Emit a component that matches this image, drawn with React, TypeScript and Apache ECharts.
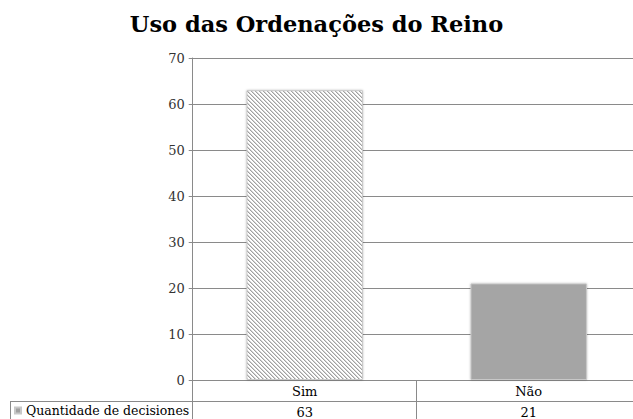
import React, { useEffect, useRef } from "react";
import * as echarts from "echarts";

const title = "Uso das Ordenações do Reino";
const categories = ["Sim", "Não"];
const seriesName = "Quantidade de decisiones";
const values = [63, 21];
const yTicks = { min: 0, max: 70, interval: 10 };

const GRID_LEFT = 192.7;
const GRID_TOP = 58;
const GRID_W = 448;
const GRID_H = 322;
const LINE = "#8a8a8a";
const SERIF = "DejaVu Serif";

function makeHatch(): HTMLCanvasElement {
  const c = document.createElement("canvas");
  c.width = 4;
  c.height = 4;
  const ctx = c.getContext("2d")!;
  ctx.fillStyle = "#ffffff";
  ctx.fillRect(0, 0, 4, 4);
  for (let y = 0; y < 4; y++) {
    for (let x = 0; x < 4; x++) {
      const d = (((x - y) % 4) + 4) % 4;
      if (d === 0) {
        ctx.fillStyle = "#a0a0a0";
        ctx.fillRect(x, y, 1, 1);
      } else if (d === 1) {
        ctx.fillStyle = "#d4d4d4";
        ctx.fillRect(x, y, 1, 1);
      }
    }
  }
  return c;
}

export default function App() {
  const ref = useRef<HTMLDivElement>(null);
  useEffect(() => {
    if (!ref.current) return;
    const chart = echarts.init(ref.current, undefined, { renderer: "svg" });
    const hatch = makeHatch();
    const barColors: any[] = [
      { image: hatch, repeat: "repeat" },
      "#a5a5a5",
    ];
    chart.setOption({
      animation: false,
      backgroundColor: "#ffffff",
      title: {
        text: title,
        left: "center",
        top: 7,
        textStyle: {
          fontFamily: SERIF,
          fontWeight: "bold",
          fontSize: 22.5,
          color: "#000000",
        },
      },
      legend: {
        show: true,
        left: 14,
        top: 404,
        padding: 0,
        itemWidth: 6,
        itemHeight: 6,
        icon: "rect",
        itemGap: 4,
        textStyle: { fontFamily: SERIF, fontSize: 12.5, color: "#000" },
        data: [{ name: seriesName, itemStyle: { color: "#a0a0a0" } }],
      },
      grid: {
        left: GRID_LEFT,
        top: GRID_TOP,
        width: GRID_W,
        height: GRID_H,
        containLabel: false,
        outerBoundsMode: "none",
      },
      xAxis: [
        {
          type: "category",
          data: categories,
          position: "bottom",
          axisLine: { show: true, lineStyle: { color: LINE, width: 1 } },
          axisTick: {
            show: true,
            length: 39,
            inside: false,
            lineStyle: { color: LINE, width: 1 },
          },
          axisLabel: {
            margin: 5,
            fontFamily: SERIF,
            fontSize: 13,
            color: "#000",
          },
        },
        {
          type: "category",
          data: categories,
          position: "bottom",
          offset: 21,
          axisLine: { show: true, lineStyle: { color: LINE, width: 1 } },
          axisTick: { show: false },
          axisLabel: {
            margin: 5,
            fontFamily: SERIF,
            fontSize: 13,
            color: "#000",
            formatter: (_v: string, i: number) => String(values[i]),
          },
        },
      ],
      yAxis: {
        type: "value",
        min: yTicks.min,
        max: yTicks.max,
        interval: yTicks.interval,
        axisLine: { show: true, lineStyle: { color: LINE, width: 1 } },
        axisTick: { show: true, length: 4, lineStyle: { color: LINE } },
        splitLine: { show: true, lineStyle: { color: LINE, width: 1 } },
        axisLabel: {
          margin: 8,
          fontFamily: SERIF,
          fontSize: 13,
          color: "#333333",
        },
      },
      graphic: [
        {
          type: "line",
          shape: { x1: 10, y1: 401.5, x2: GRID_LEFT, y2: 401.5 },
          style: { stroke: LINE, lineWidth: 1 },
        },
        {
          type: "line",
          shape: { x1: 10.5, y1: 401, x2: 10.5, y2: 419 },
          style: { stroke: LINE, lineWidth: 1 },
        },
      ],
      series: [
        {
          name: seriesName,
          type: "bar",
          barWidth: "52%",
          xAxisIndex: 0,
          itemStyle: {
            color: "#a5a5a5",
            borderColor: "#c8c8c8",
            borderWidth: 1,
            shadowBlur: 2,
            shadowColor: "rgba(0,0,0,0.25)",
          },
          data: values.map((v, i) => ({
            value: v,
            itemStyle: { color: barColors[i] },
          })),
        },
      ],
    });
    return () => chart.dispose();
  }, []);
  return (
    <div
      ref={ref}
      style={{ position: "fixed", left: 0, top: 0, width: 633, height: 419 }}
    />
  );
}
